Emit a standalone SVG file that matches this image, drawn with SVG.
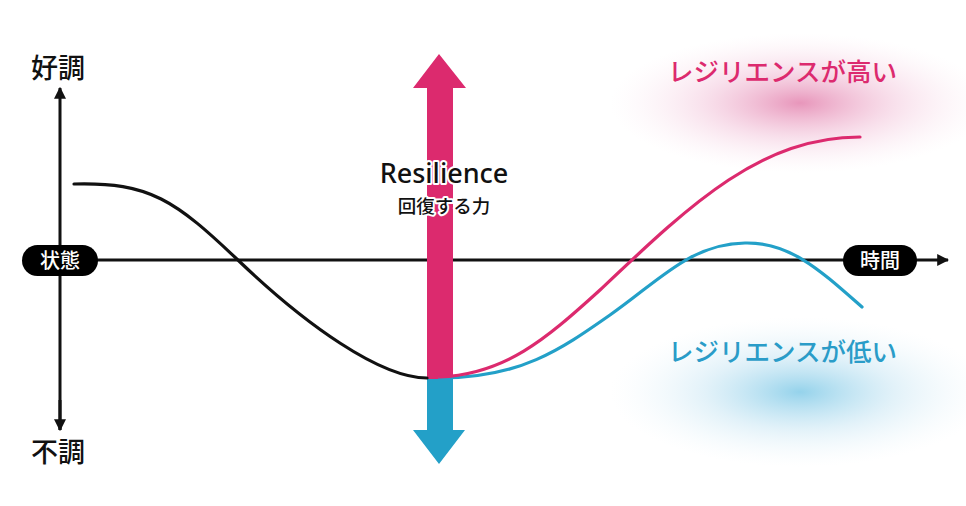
<svg xmlns="http://www.w3.org/2000/svg" width="966" height="506" viewBox="0 0 966 506">
<defs>
<radialGradient id="gPink" cx="0.5" cy="0.5" r="0.5">
<stop offset="0" stop-color="#e58ab3" stop-opacity="0.9"/>
<stop offset="0.5" stop-color="#f3c7dc" stop-opacity="0.55"/>
<stop offset="1" stop-color="#fbeaf2" stop-opacity="0"/>
</radialGradient>
<radialGradient id="gBlue" cx="0.5" cy="0.5" r="0.5">
<stop offset="0" stop-color="#8fd0ea" stop-opacity="0.95"/>
<stop offset="0.5" stop-color="#cfe9f5" stop-opacity="0.6"/>
<stop offset="1" stop-color="#eef7fb" stop-opacity="0"/>
</radialGradient>
<marker id="ah" viewBox="0 0 10 10" refX="9" refY="5" markerWidth="4" markerHeight="4" orient="auto-start-reverse">
<path d="M0,0 L10,5 L0,10 z" fill="#111"/>
</marker>
<style>
.jp{font-family:"Noto Sans CJK JP","Noto Sans",sans-serif;}
.axis{stroke:#111;stroke-width:3;fill:none;}
.curve{fill:none;stroke-width:3.2;stroke-linecap:round;}
.pill{fill:#000;}
.pilltxt{fill:#fff;font-size:20px;font-weight:500;text-anchor:middle;}
.big{fill:#111;font-size:27px;font-weight:500;text-anchor:middle;}
.halo{stroke:#fff;stroke-width:4;paint-order:stroke;stroke-linejoin:round;}
</style>
</defs>
<rect width="966" height="506" fill="#fff"/>
<ellipse cx="800" cy="103" rx="190" ry="70" fill="url(#gPink)"/>
<ellipse cx="800" cy="392" rx="190" ry="75" fill="url(#gBlue)"/>

<g id="connectors">
<line class="axis" x1="60" y1="430" x2="60" y2="88" marker-end="url(#ah)"/>
<line class="axis" x1="60" y1="400" x2="60" y2="430" marker-end="url(#ah)"/>
<line class="axis" x1="60" y1="260" x2="948" y2="260" marker-end="url(#ah)"/>
</g>

<g id="resilience-arrow">
<polygon points="439,54 466,88 453,88 453,379 427,379 427,88 413,88" fill="#dc2a6e"/>
<polygon points="427,379 453,379 453,430 465,430 439,464 413,430 427,430" fill="#23a0c8"/>
</g>

<g id="curves">
<path class="curve" stroke="#111" d="M74,184 C150,182 175,200 240,262 S380,378 427,378"/>
<path class="curve" stroke="#23a0c8" d="M440,378 C520,378 560,350 610,315 C660,280 690,244 745,243 C790,242 820,270 862,307"/>
<path class="curve" stroke="#dc2a6e" d="M440,377 C505,374 545,340 600,290 C690,205 760,137 860,137"/>
</g>

<g id="label-good"><text class="jp big" x="58" y="78">好調</text></g>
<g id="label-bad"><text class="jp big" x="58" y="462">不調</text></g>
<g id="node-state">
<rect class="pill" x="22" y="245" width="76" height="31" rx="15.5"/>
<text class="jp pilltxt" x="60" y="268">状態</text>
</g>
<g id="node-time">
<rect class="pill" x="843" y="245" width="74" height="31" rx="15.5"/>
<text class="jp pilltxt" x="880" y="268">時間</text>
</g>
<g id="label-resilience">
<text class="halo" x="444" y="183" text-anchor="middle" font-family="'Noto Sans','Liberation Sans',sans-serif" font-size="27" font-weight="500" fill="#111">Resilience</text>
<text class="jp halo" x="444" y="213" text-anchor="middle" font-size="18.5" font-weight="500" fill="#111">回復する力</text>
</g>
<g id="label-high"><text class="jp" x="668" y="81" font-size="25.5" font-weight="500" fill="#dc2a6e">レジリエンスが高い</text></g>
<g id="label-low"><text class="jp" x="668" y="361" font-size="25.5" font-weight="500" fill="#2a9cc8">レジリエンスが低い</text></g>
</svg>
